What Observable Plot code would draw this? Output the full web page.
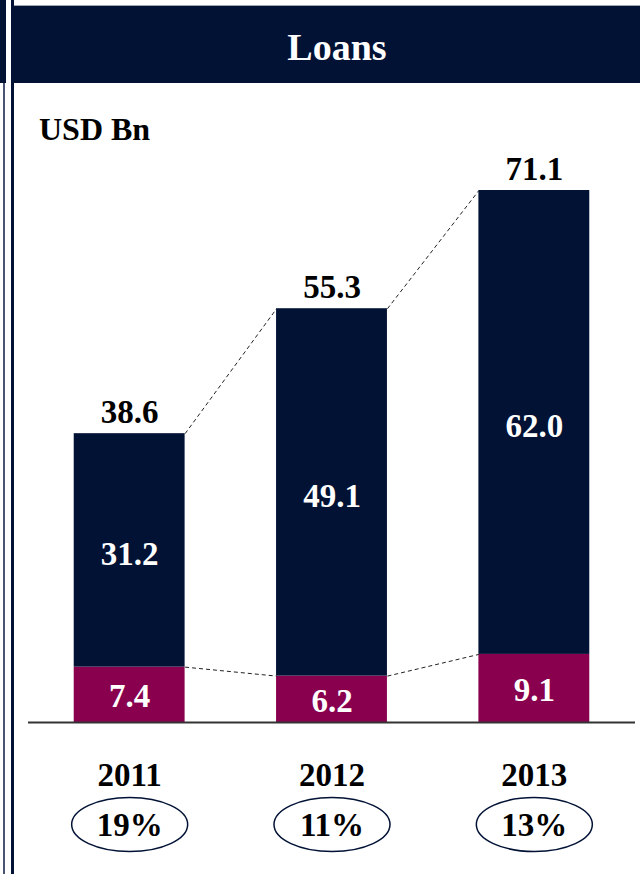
<!DOCTYPE html>
<html>
<head>
<meta charset="utf-8">
<script src="https://cdn.jsdelivr.net/npm/d3@7"></script>
<script src="https://cdn.jsdelivr.net/npm/@observablehq/plot@0.6"></script>
<style>
  html, body { margin: 0; padding: 0; background: #fff; }
  body { width: 640px; height: 874px; overflow: hidden; position: relative;
         font-family: "Liberation Serif", "Times New Roman", serif; }
  .prev-head { position: absolute; left: 0; top: 0; width: 6px; height: 83px; background: #011235; }
  .line-thin { position: absolute; left: 3px; top: 83px; width: 2px; height: 791px; background: #4a5374; }
  .line-thick { position: absolute; left: 11px; top: 0; width: 3px; height: 874px; background: #011235; }
  .header { position: absolute; left: 14px; top: 5px; width: 646px; height: 78px; background: #011235;
            border-top: 1px solid #a0a6b4; box-sizing: border-box; overflow: hidden;
            color: #fff; font-weight: bold; font-size: 38px; text-align: center; line-height: 82px; }
  .unit { position: absolute; left: 39px; top: 111px; font-weight: bold; font-size: 32px; color: #000; }
  #chart { position: absolute; left: 0; top: 83px; }
</style>
</head>
<body>
<div class="prev-head"></div>
<div class="line-thin"></div>
<div class="line-thick"></div>
<div class="header">Loans</div>
<div class="unit">USD Bn</div>
<div id="chart"></div>
<script>
// ---- data ----
const years = ["2011", "2012", "2013"];
const mainLoans = [31.2, 49.1, 62.0];   // navy segment
const otherLoans = [7.4, 6.2, 9.1];     // magenta segment
const totals = [38.6, 55.3, 71.1];
const growth = ["19%", "11%", "13%"];

// ---- styling ----
const NAVY = "#011235";
const MAGENTA = "#88004e";
const W = 0.274; // half bar width in index units
const fmt = d3.format(".1f");

const rows = years.map((y, i) => ({
  i, year: y, main: mainLoans[i], other: otherLoans[i], total: totals[i], growth: growth[i]
}));
const pairs = rows.slice(0, -1).map((d, k) => ({a: d, b: rows[k + 1]}));

const ellipse = {
  draw(ctx) {
    const a = 58, b = 27, k = 0.5523;
    ctx.moveTo(a, 0);
    ctx.bezierCurveTo(a, k * b, k * a, b, 0, b);
    ctx.bezierCurveTo(-k * a, b, -a, k * b, -a, 0);
    ctx.bezierCurveTo(-a, -k * b, -k * a, -b, 0, -b);
    ctx.bezierCurveTo(k * a, -b, a, -k * b, a, 0);
    ctx.closePath();
  }
};

const txt = {fontFamily: "Liberation Serif", fontWeight: "bold", fontSize: 33, lineAnchor: "middle"};

const chart = Plot.plot({
  width: 640,
  height: 791,
  marginLeft: 28,
  marginRight: 5,
  marginTop: 107,
  marginBottom: 152,
  x: {type: "linear", domain: [-0.5, 2.5], axis: null},
  y: {domain: [0, 71.1], axis: null},
  style: {background: "transparent", fontFamily: "Liberation Serif"},
  marks: [
    // magenta segment
    Plot.rectY(rows, {x1: d => d.i - W, x2: d => d.i + W, y1: 0, y2: d => d.other, fill: MAGENTA}),
    // navy segment
    Plot.rectY(rows, {x1: d => d.i - W, x2: d => d.i + W, y1: d => d.other, y2: d => d.other + d.main, fill: NAVY}),
    // dashed connectors (totals)
    Plot.link(pairs, {x1: p => p.a.i + W, y1: p => p.a.total, x2: p => p.b.i - W, y2: p => p.b.total,
      stroke: "#222", strokeWidth: 1, strokeDasharray: "4,3"}),
    // dashed connectors (magenta tops)
    Plot.link(pairs, {x1: p => p.a.i + W, y1: p => p.a.other, x2: p => p.b.i - W, y2: p => p.b.other,
      stroke: "#222", strokeWidth: 1, strokeDasharray: "4,3"}),
    // baseline
    Plot.ruleY([0], {stroke: "#333", strokeWidth: 2}),
    // totals
    Plot.text(rows, {...txt, x: "i", y: "total", text: d => fmt(d.total), fill: "#000", dy: -21}),
    // inner labels
    Plot.text(rows, {...txt, x: "i", y: d => d.other + d.main / 2, text: d => fmt(d.main), fill: "#fff", dy: 4}),
    Plot.text(rows, {...txt, x: "i", y: d => d.other / 2, text: d => fmt(d.other), fill: "#fff", dy: 2}),
    // year labels
    Plot.text(rows, {...txt, x: "i", y: 0, text: "year", fill: "#000", dy: 53}),
    // growth ellipses
    Plot.dot(rows, {x: "i", y: 0, symbol: ellipse, r: 1, stroke: NAVY, strokeWidth: 1.5, fill: "none", dy: 102}),
    Plot.text(rows, {...txt, x: "i", y: 0, text: "growth", fill: "#000", dy: 103})
  ]
});
document.getElementById("chart").append(chart);
</script>
</body>
</html>
